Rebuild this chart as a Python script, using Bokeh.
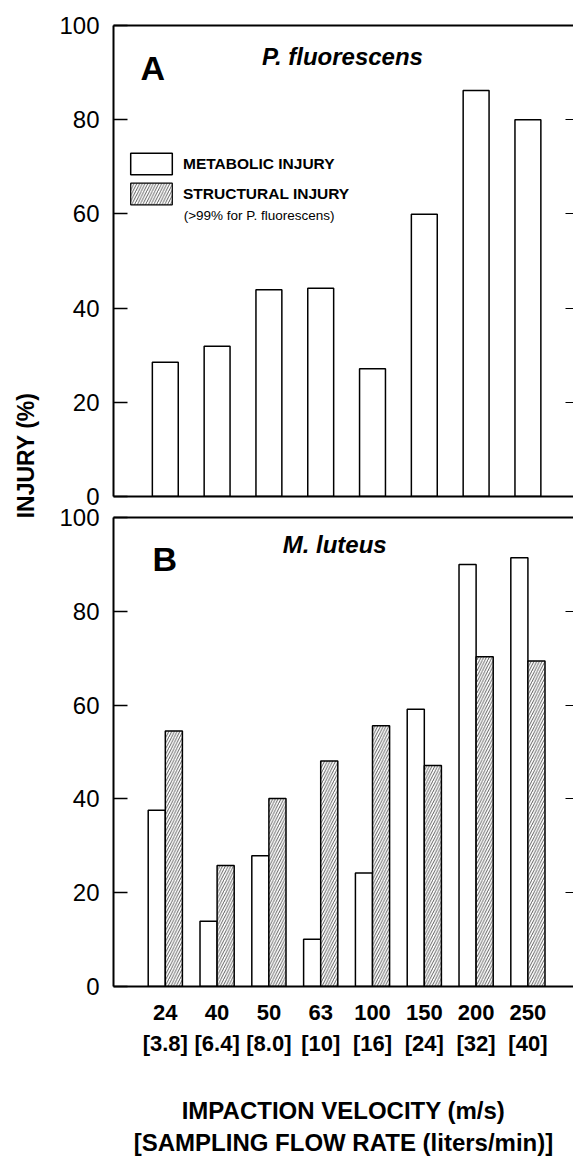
import math
from bokeh.plotting import figure
from bokeh.models import (Range1d, FixedTicker, LinearAxis, Legend, LegendItem, Label,
                          ColumnDataSource)
from bokeh.layouts import row, column
from bokeh.transform import dodge
from bokeh.embed import file_html
from bokeh.resources import INLINE
from bokeh.core.properties import value

# ---------------- data ----------------
positions = [1, 2, 3, 4, 5, 6, 7, 8]
velocities = ["24", "40", "50", "63", "100", "150", "200", "250"]
flow_rates = ["[3.8]", "[6.4]", "[8.0]", "[10]", "[16]", "[24]", "[32]", "[40]"]
a_metabolic = [28.5, 31.9, 43.9, 44.2, 27.1, 59.9, 86.2, 80.0]
b_metabolic = [37.6, 13.9, 27.9, 10.1, 24.2, 59.1, 90.0, 91.4]
b_structural = [54.5, 25.8, 40.1, 48.1, 55.6, 47.1, 70.3, 69.4]
y_ticks = [0, 20, 40, 60, 80, 100]

FONT = "Liberation Sans"
LW = 48
W = 525
HA = 506
HB = 652
XR = (0, 8.88)

HATCH = dict(hatch_pattern="/", hatch_scale=5.5, hatch_weight=0.8, hatch_color="#333333")


def no_grid(p):
    for g in p.grid:
        g.grid_line_color = None
        g.visible = False


def make_panel(height, top_border, bottom_border):
    p = figure(width=W, height=height, x_range=Range1d(*XR), y_range=Range1d(0, 100),
               output_backend="svg", toolbar_location=None,
               x_axis_location=None, y_axis_location=None,
               min_border_left=65, min_border_right=0,
               min_border_top=top_border, min_border_bottom=bottom_border)
    p.outline_line_color = None
    no_grid(p)
    left = LinearAxis(ticker=FixedTicker(ticks=y_ticks, minor_ticks=[]),
                      major_tick_in=14, major_tick_out=0, major_tick_line_width=1.5,
                      minor_tick_in=0, minor_tick_out=0,
                      axis_line_width=2, major_label_standoff=14,
                      major_label_text_font=FONT, major_label_text_font_size="24px",
                      major_label_text_color="black")
    p.add_layout(left, "left")
    right = LinearAxis(ticker=FixedTicker(ticks=y_ticks, minor_ticks=[]),
                       major_tick_in=8, major_tick_out=0, major_tick_line_width=1.2,
                       minor_tick_in=0, minor_tick_out=0,
                       axis_line_color=None,
                       major_label_overrides={t: "" for t in y_ticks},
                       major_label_standoff=0)
    p.add_layout(right, "right")
    top = LinearAxis(ticker=FixedTicker(ticks=[], minor_ticks=[]), axis_line_width=2,
                     major_tick_out=0, major_tick_in=0, minor_tick_in=0, minor_tick_out=0,
                     major_label_standoff=0)
    p.add_layout(top, "above")
    return p


# ---------------- panel A ----------------
pA = make_panel(HA, 25, 10)
bottomA = LinearAxis(ticker=FixedTicker(ticks=[], minor_ticks=[]), axis_line_width=2,
                     major_tick_out=0, major_tick_in=0, minor_tick_in=0, minor_tick_out=0,
                     major_label_standoff=0)
pA.add_layout(bottomA, "below")

srcA = ColumnDataSource(dict(x=positions, met=a_metabolic))
r_met = pA.vbar(x="x", top="met", width=0.5, source=srcA, fill_color="white",
                line_color="black", line_width=1.5)
# structural injury of P. fluorescens (>99%) is not drawn in panel A: legend entry only
srcA_st = ColumnDataSource(dict(x=[positions[0]], st=[float("nan")]))
r_str = pA.vbar(x="x", top="st", width=0.5, source=srcA_st, fill_color="white",
                line_color="black", line_width=1.2, **HATCH)

legend = Legend(items=[LegendItem(label="METABOLIC INJURY", renderers=[r_met]),
                       LegendItem(label="STRUCTURAL INJURY", renderers=[r_str])],
                location=(12, 289), glyph_width=52, glyph_height=27, spacing=3,
                padding=0, margin=0, label_standoff=6, label_height=27,
                label_text_font=FONT, label_text_font_style="bold",
                label_text_font_size="15.5px", label_text_color="black",
                border_line_color=None, background_fill_alpha=0)
pA.add_layout(legend)

pA.add_layout(Label(x=1.354, y=59.66, text="(>99% for P. fluorescens)", text_font=FONT,
                    text_font_size="13.5px", text_baseline="middle", text_color="black"))
pA.add_layout(Label(x=0.52, y=90.9, text="A", text_font=FONT, text_font_style="bold",
                    text_font_size="34px", text_baseline="middle", text_color="black"))
pA.add_layout(Label(x=4.42, y=93.4, text="P. fluorescens", text_font=FONT,
                    text_font_style="bold italic", text_font_size="24px",
                    text_align="center", text_baseline="middle", text_color="black"))

# ---------------- panel B ----------------
pB = make_panel(HB, 11, 171)
srcB = ColumnDataSource(dict(x=positions, met=b_metabolic, st=b_structural))
pB.vbar(x=dodge("x", -0.165, range=pB.x_range), top="met", width=0.33, source=srcB,
        fill_color="white", line_color="black", line_width=1.5)
pB.vbar(x=dodge("x", 0.165, range=pB.x_range), top="st", width=0.33, source=srcB,
        fill_color="white", line_color="black", line_width=1.5, **HATCH)

pB.add_layout(Label(x=0.754, y=91.2, text="B", text_font=FONT, text_font_style="bold",
                    text_font_size="34px", text_baseline="middle", text_color="black"))
pB.add_layout(Label(x=4.27, y=94.2, text="M. luteus", text_font=FONT,
                    text_font_style="bold italic", text_font_size="24px",
                    text_align="center", text_baseline="middle", text_color="black"))

ax1 = LinearAxis(ticker=FixedTicker(ticks=positions, minor_ticks=[]),
                 major_label_overrides={k: v for k, v in zip(positions, velocities)},
                 major_tick_out=0, major_tick_in=0, minor_tick_in=0, minor_tick_out=0,
                 axis_line_width=2, major_label_standoff=18,
                 major_label_text_font=FONT, major_label_text_font_style="bold",
                 major_label_text_font_size="22px", major_label_text_color="black")
ax2 = LinearAxis(ticker=FixedTicker(ticks=positions, minor_ticks=[]),
                 major_label_overrides={k: v for k, v in zip(positions, flow_rates)},
                 major_tick_out=0, major_tick_in=0, minor_tick_in=0, minor_tick_out=0,
                 axis_line_color=None, major_tick_line_color=None, major_label_standoff=8,
                 major_label_text_font=FONT, major_label_text_font_style="bold",
                 major_label_text_font_size="22px", major_label_text_color="black")
ax3 = LinearAxis(ticker=FixedTicker(ticks=[], minor_ticks=[]), axis_line_color=None,
                 major_tick_out=0, major_tick_in=0, minor_tick_in=0, minor_tick_out=0,
                 major_label_standoff=0,
                 axis_label="IMPACTION VELOCITY (m/s)", axis_label_standoff=38,
                 axis_label_text_font=FONT, axis_label_text_font_style="bold",
                 axis_label_text_font_size="24px", axis_label_text_color="black")
ax4 = LinearAxis(ticker=FixedTicker(ticks=[], minor_ticks=[]), axis_line_color=None,
                 major_tick_out=0, major_tick_in=0, minor_tick_in=0, minor_tick_out=0,
                 major_label_standoff=0,
                 axis_label="[SAMPLING FLOW RATE (liters/min)]", axis_label_standoff=2,
                 axis_label_text_font=FONT, axis_label_text_font_style="bold",
                 axis_label_text_font_size="24px", axis_label_text_color="black")
for ax in (ax1, ax2, ax3, ax4):
    pB.add_layout(ax, "below")

# ---------------- shared y label ----------------
pL = figure(width=LW, height=HA + HB, x_range=Range1d(0, LW), y_range=Range1d(0, HA + HB),
            output_backend="svg", toolbar_location=None,
            x_axis_location=None, y_axis_location=None,
            min_border_left=0, min_border_right=0, min_border_top=0, min_border_bottom=0)
pL.outline_line_color = None
no_grid(pL)
pL.text(x=[25], y=[HA + HB - 455], text=["INJURY (%)"], angle=math.pi / 2,
        text_align="center", text_baseline="middle", text_font=value(FONT),
        text_font_style="bold", text_font_size="23px", text_color="black")

layout = row(pL, column(pA, pB, spacing=0), spacing=0)
open("out.html", "w").write(file_html(layout, INLINE))
